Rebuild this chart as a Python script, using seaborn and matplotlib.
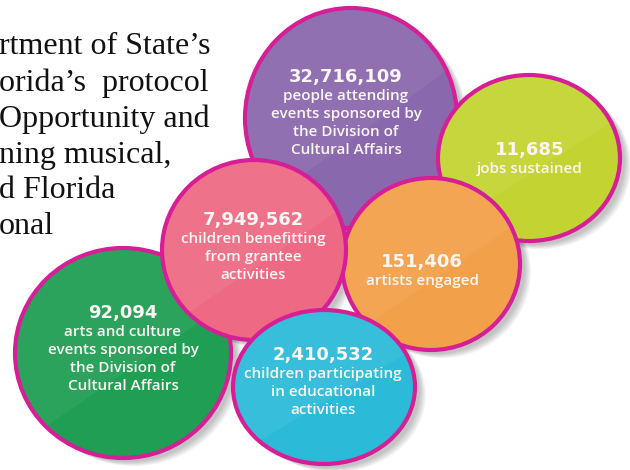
import matplotlib
matplotlib.use("Agg")
import matplotlib.pyplot as plt
from matplotlib.patches import Ellipse, Polygon
import seaborn as sns

sns.set_theme(style="white")
plt.rcParams['font.family'] = ['Open Sans', 'DejaVu Sans']

# ---- data ----
numbers = ["32,716,109", "11,685", "151,406", "92,094", "7,949,562", "2,410,532"]
labels = [
    ["people attending", "events sponsored by", "the Division of", "Cultural Affairs"],
    ["jobs sustained"],
    ["artists engaged"],
    ["arts and culture", "events sponsored by", "the Division of", "Cultural Affairs"],
    ["children benefitting", "from grantee", "activities"],
    ["children participating", "in educational", "activities"],
]
intro_lines = ["rtment of State\u2019s", "orida\u2019s  protocol", "Opportunity and",
               "ning musical,", "d Florida", "onal"]

# ---- layout (pixel coordinates) ----
centers_x = [351, 529, 431, 123, 254, 324]
centers_y = [118, 158, 264, 353, 250, 387]
radii_x = [106, 91, 89, 108, 92, 91]
radii_y = [110, 83, 86, 105, 90, 77]
fills = ["#8a68ad", "#c3d432", "#f3a04b", "#1f9e54", "#ee6a84", "#2bbbd8"]
text_x = [346, 530, 422, 123, 253, 323]
text_y = [77, 150, 262, 313, 220, 355]
edge = "#d61e97"

fig = plt.figure(figsize=(6.3, 4.7), dpi=100)
ax = fig.add_axes([0, 0, 1, 1])
ax.set_xlim(0, 630)
ax.set_ylim(470, 0)
ax.axis("off")

# shadows
for cx, cy, rx, ry in zip(centers_x, centers_y, radii_x, radii_y):
    for k in range(7):
        ax.add_patch(Ellipse((cx + 5 + k, cy + 4 + k * 0.7), 2 * rx, 2 * ry,
                             facecolor="#000000", alpha=0.035, edgecolor="none", zorder=1))

for i, (cx, cy, rx, ry, fc) in enumerate(zip(centers_x, centers_y, radii_x, radii_y, fills)):
    z = 2 + i * 3
    ell = Ellipse((cx, cy), 2 * rx, 2 * ry, facecolor=fc, edgecolor="none", zorder=z)
    ax.add_patch(ell)
    # subtle diagonal sheen on the upper-left half
    sheen = Polygon([(cx - 2 * rx, cy + 1.6 * ry), (cx + 2 * rx, cy - 1.2 * ry),
                     (cx + 2 * rx, cy - 3 * ry), (cx - 2 * rx, cy - 3 * ry)],
                    closed=True, facecolor="white", alpha=0.055, edgecolor="none", zorder=z + 0.1)
    ax.add_patch(sheen)
    sheen.set_clip_path(ell)
    ax.add_patch(Ellipse((cx, cy), 2 * rx, 2 * ry, facecolor="none", edgecolor=edge,
                         linewidth=3.0, zorder=z + 0.2))
    ax.text(text_x[i], text_y[i], numbers[i], ha="center", va="center", color="#fbf6f4",
            fontsize=13, fontweight="bold", family=["DejaVu Sans"], zorder=z + 1)
    for j, line in enumerate(labels[i]):
        ax.text(text_x[i], text_y[i] + 19 + j * 18, line, ha="center", va="center",
                color="#fbf6f4", fontsize=11, fontweight="semibold", zorder=z + 1)

for j, line in enumerate(intro_lines):
    ax.text(-1, 47 + j * 36, line, ha="left", va="center", color="#111111",
            fontsize=23, family=["Liberation Serif"], zorder=0)

fig.savefig("out.png", dpi=100)
